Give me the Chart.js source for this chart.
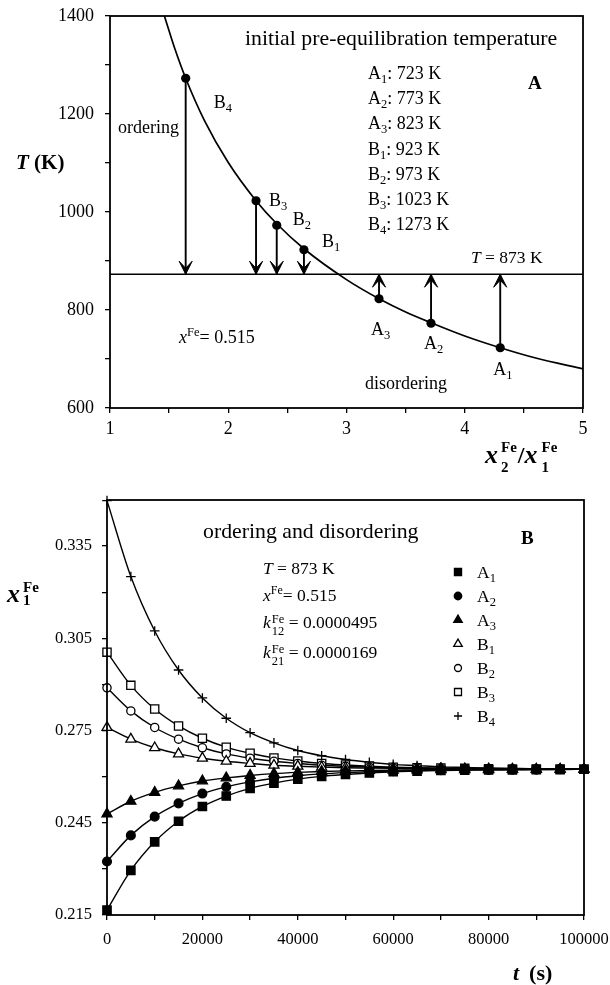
<!DOCTYPE html>
<html><head><meta charset="utf-8">
<script src="https://cdn.jsdelivr.net/npm/chart.js@4.4.1/dist/chart.umd.min.js"></script>
<style>
html,body{margin:0;padding:0;background:#fff;}
#wrap{position:relative;width:610px;height:985px;overflow:hidden;background:#fff;}
canvas{position:absolute;left:0;}
#cA{top:0;} #cB{top:490px;}
</style></head><body>
<div id="wrap"><canvas id="cA" width="610" height="490"></canvas><canvas id="cB" width="610" height="495"></canvas></div>
<script>
// ---------------- Panel A data ----------------
const curveRatio = [1.46,1.55,1.64,1.80,2.00,2.235,2.41,2.64,3.00,3.275,3.50,3.715,4.00,4.30,4.60,5.00];
const curveT     = [1400,1332,1273,1186,1101,1023,976,925,862,823,796,774,747,723,702,680];
const pointLabels = ['B4','B3','B2','B1','A3','A2','A1'];
const pointRatio  = [1.64,2.235,2.41,2.64,3.275,3.715,4.30];
const pointT      = [1273,1023,973,923,823,773,723];
const targetT = 873;
const listLabels = ['A1','A2','A3','B1','B2','B3','B4'];
const listT      = [723,773,823,923,973,1023,1273];
const yTickValuesA = [600,700,800,900,1000,1100,1200,1300,1400];
const yTickLabelsA = ['600','','800','','1000','','1200','','1400'];
const xTickValuesA = [1,1.5,2,2.5,3,3.5,4,4.5,5];
const xTickLabelsA = ['1','','2','','3','','4','','5'];

// ---------------- Panel B data ----------------
const tB = [0,5000,10000,15000,20000,25000,30000,35000,40000,45000,50000,55000,60000,65000,70000,75000,80000,85000,90000,95000,100000];
const seriesNames = ['A1','A2','A3','B1','B2','B3','B4'];
const sA1 = [0.2166,0.2295,0.2388,0.2455,0.2503,0.2537,0.2562,0.2579,0.2592,0.2601,0.2607,0.2612,0.2616,0.2618,0.2620,0.2621,0.2622,0.2622,0.2623,0.2623,0.2624];
const sA2 = [0.2324,0.2409,0.2470,0.2513,0.2545,0.2567,0.2583,0.2595,0.2603,0.2609,0.2613,0.2616,0.2618,0.2620,0.2621,0.2622,0.2622,0.2623,0.2623,0.2624,0.2624];
const sA3 = [0.2479,0.2520,0.2549,0.2570,0.2586,0.2596,0.2604,0.2610,0.2614,0.2617,0.2619,0.2620,0.2621,0.2622,0.2623,0.2623,0.2623,0.2624,0.2624,0.2624,0.2624];
const sB1 = [0.2760,0.2722,0.2694,0.2674,0.2660,0.2650,0.2643,0.2637,0.2634,0.2631,0.2629,0.2628,0.2627,0.2626,0.2625,0.2625,0.2625,0.2624,0.2624,0.2624,0.2624];
const sB2 = [0.2889,0.2814,0.2760,0.2722,0.2694,0.2674,0.2660,0.2650,0.2643,0.2637,0.2634,0.2631,0.2629,0.2628,0.2627,0.2626,0.2625,0.2625,0.2625,0.2624,0.2624];
const sB3 = [0.3005,0.2897,0.2820,0.2765,0.2725,0.2696,0.2676,0.2661,0.2651,0.2643,0.2638,0.2634,0.2631,0.2629,0.2628,0.2627,0.2626,0.2625,0.2625,0.2625,0.2624];
const sB4 = [0.3498,0.3251,0.3074,0.2947,0.2856,0.2790,0.2743,0.2710,0.2685,0.2668,0.2656,0.2647,0.2640,0.2636,0.2632,0.2630,0.2628,0.2627,0.2626,0.2626,0.2625];
const yTickValuesB = [0.215,0.23,0.245,0.26,0.275,0.29,0.305,0.32,0.335];
const yTickLabelsB = ['0.215','','0.245','','0.275','','0.305','','0.335'];
const xTickValuesB = [0,10000,20000,30000,40000,50000,60000,70000,80000,90000,100000];
const xTickLabelsB = ['0','','20000','','40000','','60000','','80000','','100000'];

// ---------------- styling ----------------
const FF = '"Liberation Serif","Times New Roman",serif';
const labelOffsetA = [[28,30],[13,5.5],[16,-0.5],[18,-3],[-8,36],[-7,26],[-7,27]];
const markerStyles = [
  {style:'rect', r:5.9, filled:true},
  {style:'circle', r:4.4, filled:true},
  {style:'triangle', r:5.8, filled:true},
  {style:'triangle', r:5.8, filled:false},
  {style:'circle', r:4.1, filled:false},
  {style:'rect', r:5.8, filled:false},
  {style:'cross', r:4.8, filled:false}
];

function fontStr(p){ return (p.italic?'italic ':'')+(p.bold?'bold ':'')+p.size+'px '+FF; }
function drawRich(ctx, x, y, parts, base){
  ctx.save(); ctx.fillStyle='#000'; ctx.textAlign='left'; ctx.textBaseline='alphabetic';
  let cx = x;
  for(const q of parts){
    const p = Object.assign({size:18,bold:false,italic:false,dy:0,gap:0,pre:0,supDy:-7,subDy:5}, base||{}, q);
    cx += p.pre;
    ctx.font = fontStr(p);
    if(p.sup!==undefined || p.sub!==undefined){
      let w=0;
      if(p.sup){ ctx.fillText(p.sup,cx,y+p.supDy); w=Math.max(w,ctx.measureText(p.sup).width); }
      if(p.sub){ ctx.fillText(p.sub,cx,y+p.subDy); w=Math.max(w,ctx.measureText(p.sub).width); }
      cx += w;
    } else {
      ctx.fillText(p.t,cx,y+p.dy); cx += ctx.measureText(p.t).width;
    }
    cx += p.gap;
  }
  ctx.restore();
}
function arrowHead(ctx,x,y,dir){
  const L=13,W=6.5,N=6;
  ctx.save(); ctx.fillStyle='#000'; ctx.strokeStyle='#000'; ctx.lineWidth=1; ctx.lineJoin='round'; ctx.beginPath();
  ctx.moveTo(x,y); ctx.lineTo(x-W,y-dir*L); ctx.lineTo(x,y-dir*N); ctx.lineTo(x+W,y-dir*L); ctx.closePath(); ctx.fill(); ctx.stroke();
  ctx.restore();
}
function drawMarker(ctx, m, x, y, k){
  const r = m.r*k;
  ctx.save(); ctx.fillStyle = m.filled?'#000':'#fff'; ctx.strokeStyle='#000'; ctx.lineWidth=1.3;
  ctx.beginPath();
  if(m.style==='rect'){ const s=r*Math.SQRT1_2; ctx.rect(x-s,y-s,2*s,2*s); }
  else if(m.style==='circle'){ ctx.arc(x,y,r,0,2*Math.PI); }
  else if(m.style==='triangle'){ const a=2*Math.PI/3; ctx.moveTo(x,y-r); ctx.lineTo(x+r*Math.sin(a),y-r*Math.cos(a)); ctx.lineTo(x-r*Math.sin(a),y-r*Math.cos(a)); ctx.closePath(); }
  if(m.style==='cross'){ ctx.moveTo(x-r,y); ctx.lineTo(x+r,y); ctx.moveTo(x,y-r); ctx.lineTo(x,y+r); ctx.stroke(); }
  else { ctx.fill(); ctx.stroke(); }
  ctx.restore();
}
function fixedAxis(size){
  return function(scale){
    if(scale.isHorizontal()) scale.height=size; else scale.width=size;
    scale.paddingLeft=0; scale.paddingRight=0; scale.paddingTop=0; scale.paddingBottom=0;
  };
}
function frameDraw(chart){
  const {ctx, chartArea:a} = chart;
  ctx.save(); ctx.strokeStyle='#000'; ctx.lineWidth=1.8;
  ctx.strokeRect(a.left,a.top,a.right-a.left,a.bottom-a.top); ctx.restore();
}
function axisOpts(min,max,vals,labels,fontSize,pad,fit){
  return {
    type:'linear', min:min, max:max,
    afterBuildTicks: s => { s.ticks = vals.map(v=>({value:v})); },
    afterFit: fit,
    ticks:{autoSkip:false, maxRotation:0, minRotation:0, padding:pad, color:'#000',
      font:{family:FF,size:fontSize}, callback:(v,i)=>labels[i]},
    grid:{display:true, drawOnChartArea:false, drawTicks:true, tickLength:5, color:'#000', lineWidth:1.3},
    border:{display:false}
  };
}

// ---------------- Chart A ----------------
const annotA = {
  id:'annotA',
  afterDatasetsDraw(chart){
    const {ctx, scales:{x,y}} = chart;
    frameDraw(chart);
    const ty = y.getPixelForValue(targetT);
    pointRatio.forEach((r,i)=>{ arrowHead(ctx, x.getPixelForValue(r), ty, pointT[i]>targetT?1:-1); });
    pointLabels.forEach((lab,i)=>{
      const px=x.getPixelForValue(pointRatio[i]), py=y.getPixelForValue(pointT[i]);
      drawRich(ctx, px+labelOffsetA[i][0], py+labelOffsetA[i][1], [{t:lab[0]},{t:lab.slice(1),size:12.5,dy:4}], {size:18});
    });
    listLabels.forEach((lab,i)=>{
      drawRich(ctx, 368, 79+i*25.2, [{t:lab[0]},{t:lab.slice(1),size:12.5,dy:4},{t:': '+listT[i]+' K'}], {size:18});
    });
    drawRich(ctx, 245, 45, [{t:'initial pre-equilibration temperature'}], {size:21.8});
    drawRich(ctx, 528, 88.5, [{t:'A',bold:true}], {size:19});
    drawRich(ctx, 471, 263, [{t:'T',italic:true},{t:' = '+targetT+' K'}], {size:17.5});
    drawRich(ctx, 118, 133, [{t:'ordering'}], {size:18});
    drawRich(ctx, 365, 389, [{t:'disordering'}], {size:18});
    drawRich(ctx, 179, 343, [{t:'x',italic:true},{t:'Fe',size:12.5,dy:-7},{t:'= 0.515'}], {size:18});
    // axis titles
    drawRich(ctx, 16, 169, [{t:'T',bold:true,italic:true},{t:' (K)',bold:true}], {size:21});
    drawRich(ctx, 485, 463, [
      {t:'x',bold:true,italic:true,size:26,gap:3},
      {sup:'Fe',sub:'2',bold:true,size:15,supDy:-11,subDy:9},
      {t:'/',bold:true,size:24,pre:1},
      {t:'x',bold:true,italic:true,size:26,gap:4},
      {sup:'Fe',sub:'1',bold:true,size:15,supDy:-11,subDy:9}
    ]);
  }
};

new Chart(document.getElementById('cA'), {
  type:'line',
  data:{ datasets:[
    {data:pointRatio.map((r,i)=>({x:r,y:pointT[i]})), showLine:false, pointRadius:4.6, pointBackgroundColor:'#000', pointBorderWidth:0},
    {data:curveRatio.map((r,i)=>({x:r,y:curveT[i]})), borderColor:'#000', borderWidth:1.7, pointRadius:0, cubicInterpolationMode:'monotone'},
    {data:[{x:1,y:targetT},{x:5,y:targetT}], borderColor:'#000', borderWidth:1.7, pointRadius:0},
    ...pointRatio.map((r,i)=>({data:[{x:r,y:pointT[i]},{x:r,y:targetT}], borderColor:'#000', borderWidth:1.9, pointRadius:0}))
  ]},
  options:{
    responsive:false, animation:false, events:[],
    layout:{padding:{left:0,top:16,right:27,bottom:42}},
    plugins:{legend:{display:false}, tooltip:{enabled:false}},
    scales:{
      x: axisOpts(1,5,xTickValuesA,xTickLabelsA,18,5,fixedAxis(40)),
      y: axisOpts(600,1400,yTickValuesA,yTickLabelsA,18,11,fixedAxis(110))
    }
  },
  plugins:[annotA]
});

// ---------------- Chart B ----------------
const OFF = 490;
const seriesData = [sA1,sA2,sA3,sB1,sB2,sB3,sB4];
const annotB = {
  id:'annotB',
  afterDatasetsDraw(chart){
    const {ctx} = chart;
    frameDraw(chart);
    drawRich(ctx, 203, 538-OFF, [{t:'ordering and disordering'}], {size:21.8});
    drawRich(ctx, 521, 543.5-OFF, [{t:'B',bold:true}], {size:19});
    drawRich(ctx, 263, 574-OFF, [{t:'T',italic:true},{t:' = 873 K'}], {size:17.5});
    drawRich(ctx, 263, 601-OFF, [{t:'x',italic:true},{t:'Fe',size:12,dy:-7},{t:'= 0.515'}], {size:17.5});
    drawRich(ctx, 263, 628-OFF, [{t:'k',italic:true,gap:1},{sup:'Fe',sub:'12',size:12.5,supDy:-5,subDy:7},{t:' = 0.0000495'}], {size:17.5});
    drawRich(ctx, 263, 658-OFF, [{t:'k',italic:true,gap:1},{sup:'Fe',sub:'21',size:12.5,supDy:-5,subDy:7},{t:' = 0.0000169'}], {size:17.5});
    seriesNames.forEach((n,i)=>{
      const yy = 572 + i*24 - OFF;
      drawMarker(ctx, markerStyles[i], 458, yy, 0.85);
      drawRich(ctx, 477, yy+6, [{t:n[0]},{t:n.slice(1),size:12.5,dy:4}], {size:17.5});
    });
    drawRich(ctx, 7, 602-OFF, [
      {t:'x',bold:true,italic:true,size:26,gap:3},
      {sup:'Fe',sub:'1',bold:true,size:15,supDy:-10,subDy:3}
    ]);
    drawRich(ctx, 513, 980-OFF, [{t:'t',bold:true,italic:true},{t:'(s)',bold:true,pre:10}], {size:22});
  }
};

new Chart(document.getElementById('cB'), {
  type:'line',
  data:{ datasets: seriesData.map((s,i)=>{
    const m = markerStyles[i];
    return {
      data: tB.map((t,j)=>({x:t,y:s[j]})),
      borderColor:'#000', borderWidth:1.4, cubicInterpolationMode:'monotone',
      pointStyle: m.style, pointRadius: m.r, pointBorderWidth:1.3,
      pointBackgroundColor: m.filled?'#000':'#fff', pointBorderColor:'#000',
      clip:false
    };
  })},
  options:{
    responsive:false, animation:false, events:[],
    layout:{padding:{left:0,top:10,right:26,bottom:40}},
    plugins:{legend:{display:false}, tooltip:{enabled:false}},
    scales:{
      x: axisOpts(0,100000,xTickValuesB,xTickLabelsB,16.5,10,fixedAxis(30)),
      y: axisOpts(0.215,0.35,yTickValuesB,yTickLabelsB,16.5,10,fixedAxis(107))
    }
  },
  plugins:[annotB]
});
</script>
</body></html>
